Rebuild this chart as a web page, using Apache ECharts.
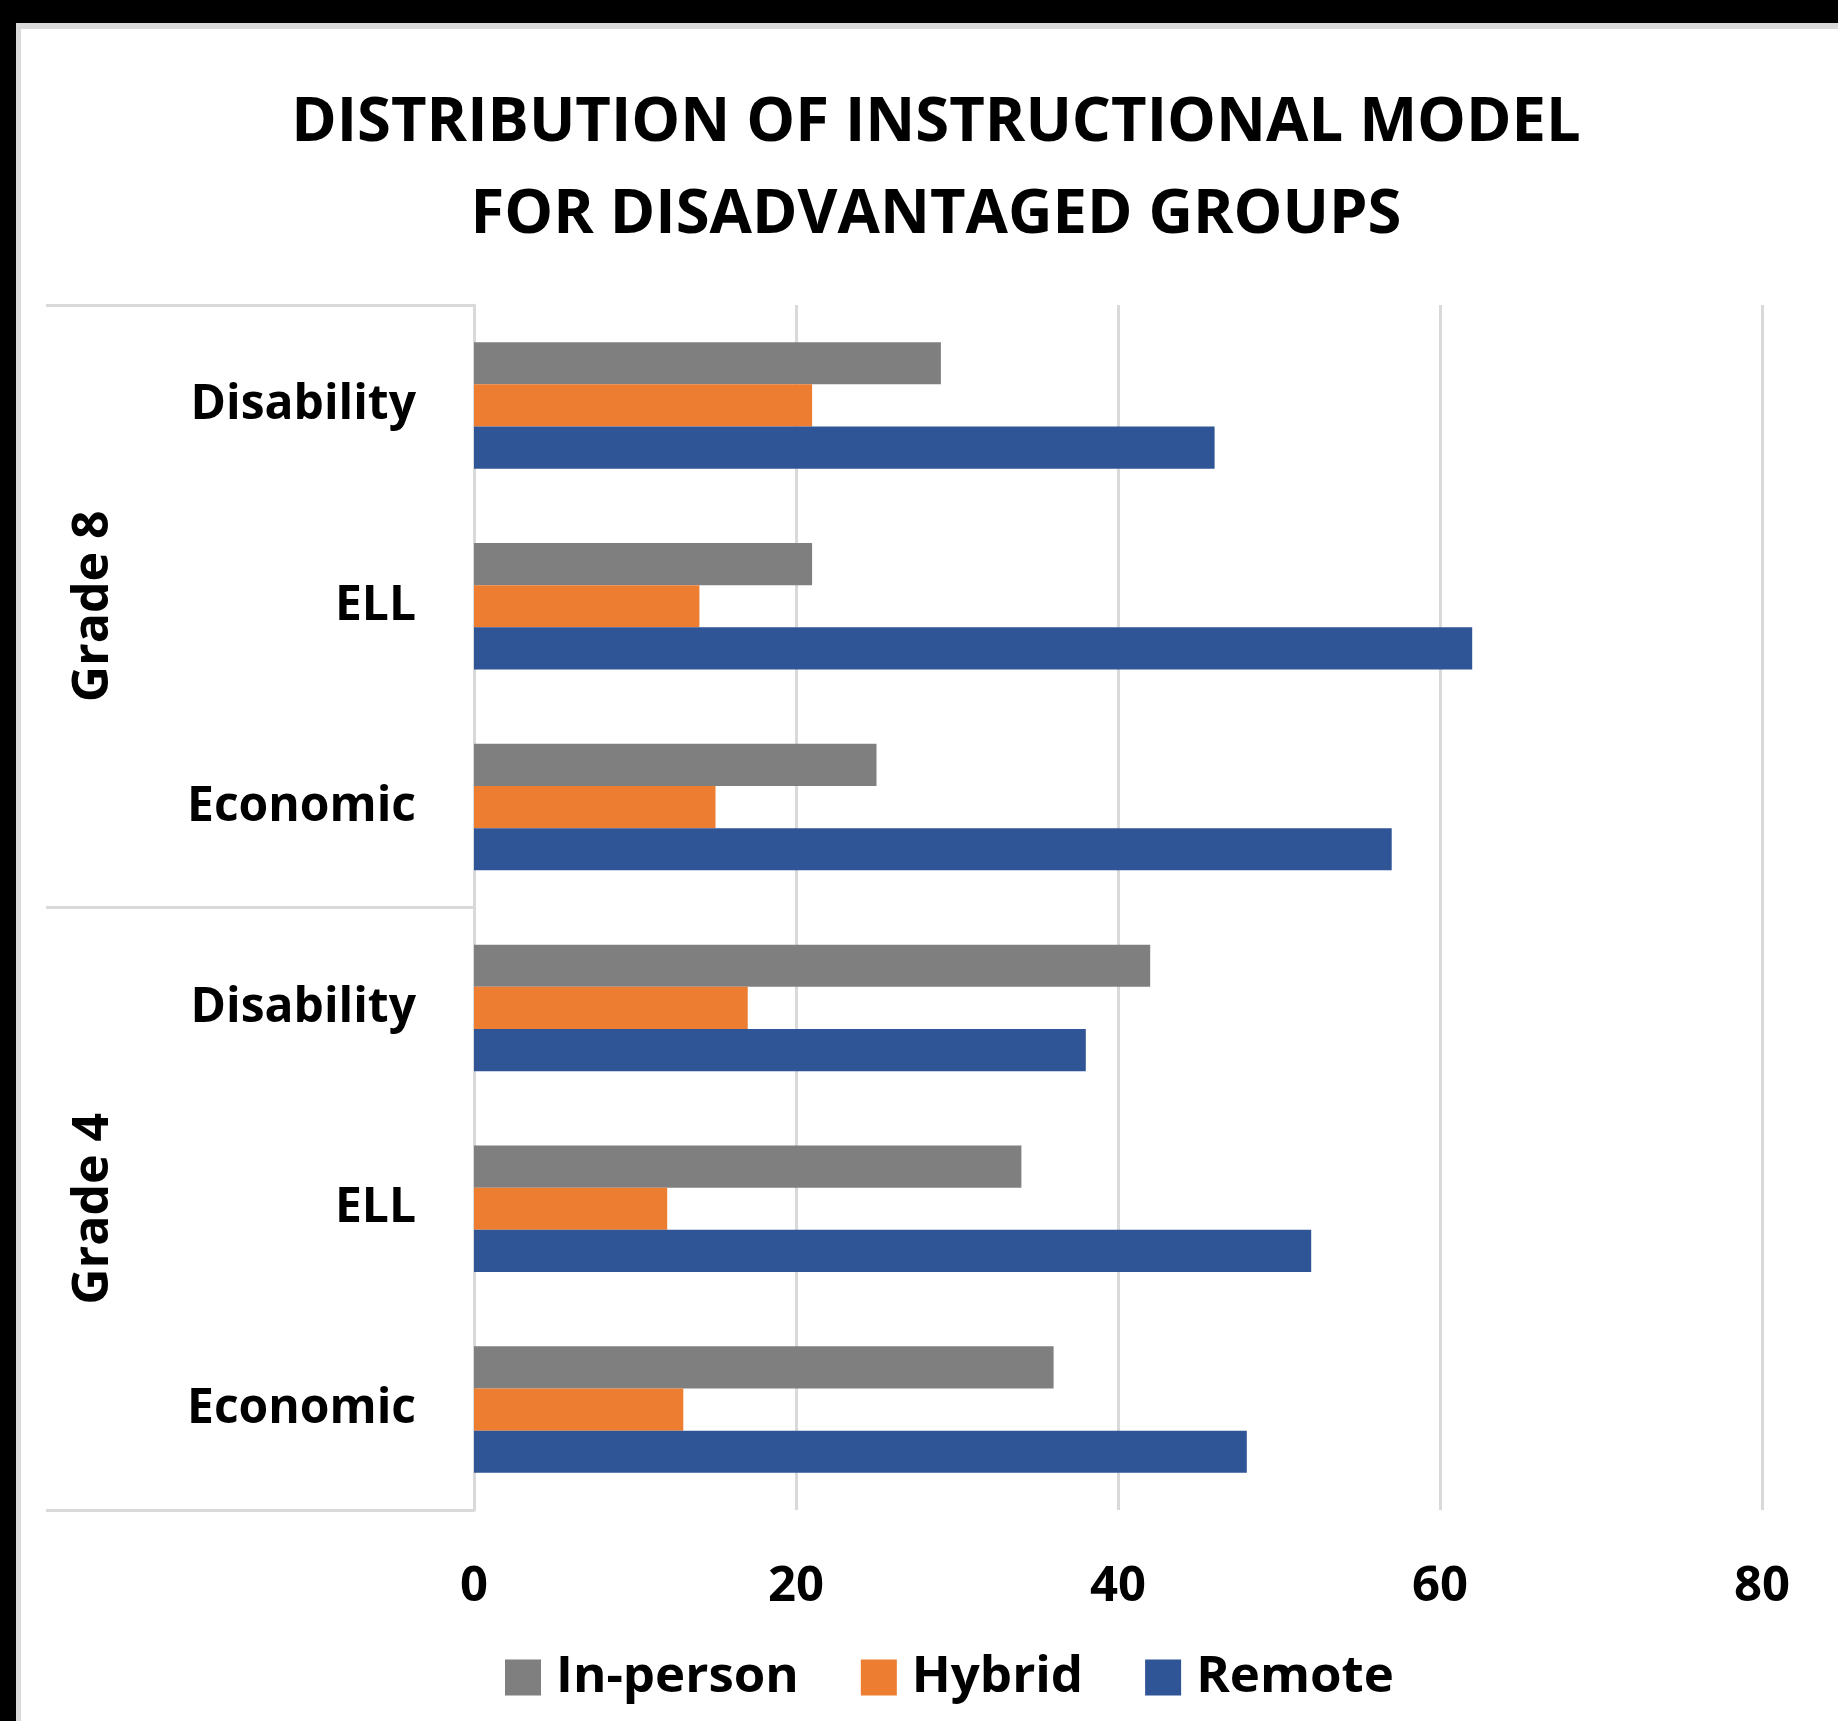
<!DOCTYPE html>
<html>
<head>
<meta charset="utf-8">
<script src="https://cdn.jsdelivr.net/npm/echarts@6/dist/echarts.min.js"></script>
<style>
  html, body { margin: 0; padding: 0; background: #000; width: 1838px; height: 1721px; overflow: hidden; }
  #panel { position: absolute; left: 16px; top: 23px; right: 0; bottom: 0; background: #fff;
           border-left: 5px solid #d9d9d9; border-top: 6px solid #d9d9d9; }
  #chart { position: absolute; left: 0; top: 0; width: 1838px; height: 1721px; }
</style>
</head>
<body>
<div id="panel"></div>
<div id="chart"></div>
<script>
const titleText = 'DISTRIBUTION OF INSTRUCTIONAL MODEL\nFOR DISADVANTAGED GROUPS';
const subCategories = ['Disability', 'ELL', 'Economic', 'Disability', 'ELL', 'Economic'];
const groupCategories = ['Grade 8', 'Grade 4'];
const seriesNames = ['In-person', 'Hybrid', 'Remote'];
const inPerson = [29, 21, 25, 42, 34, 36];
const hybrid = [21, 14, 15, 17, 12, 13];
const remote = [46, 62, 57, 38, 52, 48];
const xTicks = { min: 0, max: 80, interval: 20 };
const colors = ['#7f7f7f', '#ed7d31', '#2f5597'];

const FONT = 'Open Sans';
const chart = echarts.init(document.getElementById('chart'), null, { renderer: 'canvas' });
const seriesData = [inPerson, hybrid, remote];
chart.setOption({
  backgroundColor: 'transparent',
  animation: false,
  color: colors,
  title: {
    text: titleText,
    left: 931,
    textAlign: 'center',
    top: 72,
    textStyle: { fontFamily: FONT, fontSize: 61.5, fontWeight: 'bold', color: '#000', lineHeight: 92 }
  },
  legend: {
    data: seriesNames,
    left: 505,
    top: 1652,
    padding: 0,
    icon: 'rect',
    itemWidth: 36,
    itemHeight: 36,
    itemGap: 62,
    textStyle: { fontFamily: FONT, fontSize: 51, fontWeight: 'bold', color: '#000', padding: [0, 0, 0, 10], lineHeight: 50 }
  },
  grid: { left: 474, right: 76, top: 305, bottom: 211, containLabel: false },
  xAxis: {
    type: 'value',
    min: xTicks.min, max: xTicks.max, interval: xTicks.interval,
    axisLine: { show: false },
    axisTick: { show: false },
    splitLine: { lineStyle: { color: '#d9d9d9', width: 3 } },
    axisLabel: { fontFamily: FONT, fontSize: 49, fontWeight: 'bold', color: '#000', margin: 53 }
  },
  yAxis: [
    {
      type: 'category',
      data: subCategories,
      inverse: true,
      position: 'left',
      axisLine: { show: true, onZero: false, lineStyle: { color: '#d9d9d9', width: 3 } },
      axisTick: { show: false },
      axisLabel: { fontFamily: FONT, fontSize: 48, fontWeight: 'bold', color: '#000', margin: 58, padding: [6, 0, 0, 0] }
    },
    {
      type: 'category',
      data: groupCategories,
      inverse: true,
      position: 'left',
      axisLine: { show: false, onZero: false },
      axisTick: { show: true, length: 428, lineStyle: { color: '#d9d9d9', width: 3 } },
      axisLabel: { fontFamily: FONT, fontSize: 50, fontWeight: 'bold', color: '#000', rotate: 90, margin: 355 }
    }
  ],
  series: seriesNames.map((name, i) => ({
    name,
    type: 'bar',
    yAxisIndex: 0,
    data: seriesData[i],
    barGap: '0%',
    barCategoryGap: '37%',
    itemStyle: { color: colors[i] }
  }))
});
</script>
</body>
</html>
